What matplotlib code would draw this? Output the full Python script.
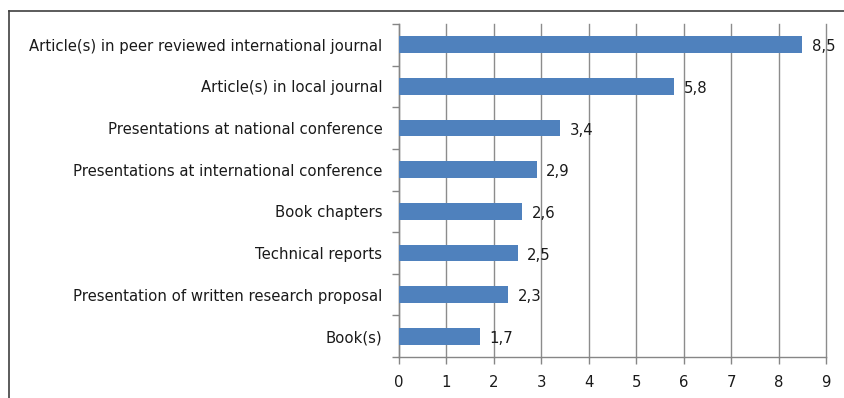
import matplotlib
matplotlib.use("Agg")
import matplotlib.pyplot as plt
from matplotlib.lines import Line2D
import numpy as np

categories = [
    "Article(s) in peer reviewed international journal",
    "Article(s) in local journal",
    "Presentations at national conference",
    "Presentations at international conference",
    "Book chapters",
    "Technical reports",
    "Presentation of written research proposal",
    "Book(s)",
]
values = [8.5, 5.8, 3.4, 2.9, 2.6, 2.5, 2.3, 1.7]
value_labels = ["8,5", "5,8", "3,4", "2,9", "2,6", "2,5", "2,3", "1,7"]
xticks = list(range(0, 10))

plt.rcParams['font.family'] = ['DejaVu Sans']
FS = 10.7

fig = plt.figure(figsize=(8.45, 3.98), dpi=100)
ax = fig.add_axes([399/845, 1-357/398, (826-399)/845, (357-24)/398])

n = len(categories)
y = np.arange(n)
ax.barh(y, values, height=0.4, color="#4F81BD", zorder=3)
for yi, v, lab in zip(y, values, value_labels):
    ax.text(v + 0.2, yi + 0.05, lab, va="center", ha="left", fontsize=FS, color="#1a1a1a", zorder=4)

ax.set_ylim(n - 0.5, -0.5)
ax.set_xlim(0, 9)
ax.set_xticks(xticks)
ax.set_xticklabels([str(t) for t in xticks], fontsize=FS, color="#1a1a1a")
ax.set_yticks(y)
ax.set_yticklabels(categories, fontsize=FS, color="#1a1a1a")
ax.tick_params(axis="y", which="major", length=0, pad=12)
ax.set_yticks(np.arange(-0.5, n, 1.0), minor=True)
ax.tick_params(axis="y", which="minor", length=5, color="#868686", width=1)
ax.tick_params(axis="x", which="major", length=5, color="#868686", width=1, pad=8)
ax.xaxis.grid(True, color="#8c8c8c", linewidth=1, zorder=0)
for gl in ax.get_xgridlines():
    gl.set_clip_on(False)
for s in ["top", "right"]:
    ax.spines[s].set_visible(False)
for s in ["left", "bottom"]:
    ax.spines[s].set_color("#868686")
    ax.spines[s].set_linewidth(1)

# outer frame (left and top edges)
fig.add_artist(Line2D([9/845, 9/845], [0, 1-11/398], transform=fig.transFigure, color="#404040", linewidth=1.2))
fig.add_artist(Line2D([9/845, 1], [1-11/398, 1-11/398], transform=fig.transFigure, color="#404040", linewidth=1.2))

fig.savefig("out.png", dpi=100)
